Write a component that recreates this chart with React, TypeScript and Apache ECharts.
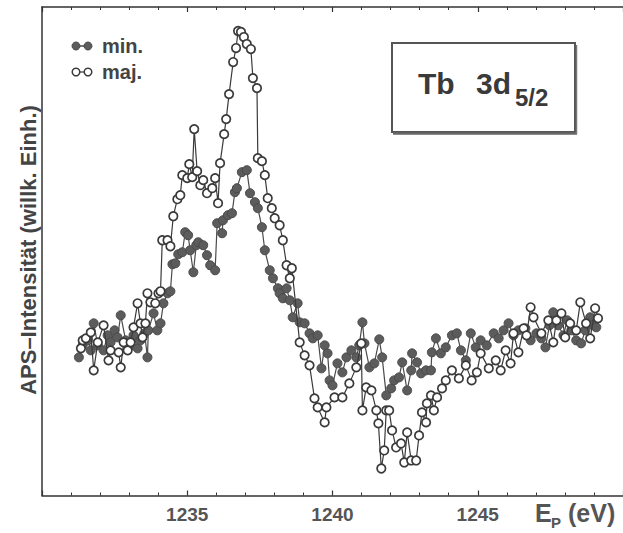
import React, { useEffect, useRef } from 'react';
import * as echarts from 'echarts';

// Energies in eV and intensities (arbitrary units)
const minEnergy = [
  1231.27, 1231.40, 1231.58, 1231.68, 1231.78, 1231.92, 1232.12, 1232.26, 1232.36, 1232.50,
  1232.60, 1232.71, 1232.88, 1233.05, 1233.15, 1233.29, 1233.39, 1233.53, 1233.63, 1233.66,
  1233.84, 1233.97, 1234.08, 1234.18, 1234.32, 1234.42, 1234.49, 1234.59, 1234.69, 1234.83,
  1234.93, 1235.03, 1235.10, 1235.21, 1235.31, 1235.38, 1235.55, 1235.68, 1235.79, 1235.96,
  1236.03, 1236.20, 1236.23, 1236.40, 1236.54, 1236.64, 1236.71, 1236.88, 1237.05, 1237.16,
  1237.33, 1237.43, 1237.57, 1237.67, 1237.84, 1237.95, 1238.12, 1238.18, 1238.29, 1238.42,
  1238.53, 1238.63, 1238.80, 1238.87, 1239.04, 1239.21, 1239.32, 1239.49, 1239.62, 1239.73,
  1239.83, 1239.90, 1240.00, 1240.17, 1240.34, 1240.48, 1240.65, 1240.82, 1240.92, 1241.03,
  1241.10, 1241.27, 1241.44, 1241.61, 1241.71, 1241.85, 1242.02, 1242.12, 1242.29, 1242.40,
  1242.57, 1242.71, 1242.74, 1242.91, 1243.05, 1243.22, 1243.39, 1243.42, 1243.56, 1243.73,
  1243.90, 1244.11, 1244.28, 1244.42, 1244.59, 1244.76, 1244.93, 1245.10, 1245.31, 1245.55,
  1245.72, 1245.89, 1246.06, 1246.23, 1246.40, 1246.64, 1246.82, 1247.02, 1247.19, 1247.33,
  1247.47, 1247.60, 1247.77, 1247.95, 1248.08, 1248.22, 1248.39, 1248.56, 1248.70, 1248.87,
  1248.97, 1249.08,
];
const minIntensity = [
  138, 150, 155, 145, 172, 150, 145, 160, 153, 165,
  158, 180, 155, 150, 160, 147, 155, 162, 138, 165,
  182, 165, 172, 192, 202, 204, 231, 232, 241, 243,
  263, 260, 245, 223, 250, 253, 250, 240, 230, 225,
  272, 262, 275, 280, 282, 303, 307, 323, 325, 302,
  293, 287, 268, 245, 225, 217, 207, 202, 197, 207,
  195, 178, 192, 173, 172, 162, 157, 160, 127, 150,
  142, 115, 110, 132, 123, 138, 145, 138, 150, 173,
  152, 128, 132, 156, 138, 100, 107, 115, 118, 133,
  105, 125, 142, 133, 122, 125, 125, 143, 157, 142,
  148, 160, 162, 145, 135, 162, 148, 155, 150, 162,
  157, 165, 172, 160, 165, 167, 155, 162, 157, 148,
  170, 183, 170, 160, 175, 165, 155, 152, 165, 178,
  170, 168,
];
const majEnergy = [
  1231.34, 1231.40, 1231.51, 1231.68, 1231.78, 1231.92, 1232.12, 1232.29, 1232.36, 1232.64,
  1232.71, 1232.81, 1232.95, 1233.05, 1233.15, 1233.29, 1233.39, 1233.46, 1233.56, 1233.63,
  1233.73, 1233.90, 1234.01, 1234.08, 1234.14, 1234.32, 1234.42, 1234.52, 1234.66, 1234.76,
  1234.83, 1235.00, 1235.07, 1235.17, 1235.24, 1235.34, 1235.45, 1235.55, 1235.68, 1235.86,
  1235.96, 1236.06, 1236.13, 1236.27, 1236.34, 1236.44, 1236.58, 1236.68, 1236.75, 1236.85,
  1236.95, 1237.05, 1237.19, 1237.26, 1237.40, 1237.43, 1237.57, 1237.67, 1237.77, 1237.91,
  1238.01, 1238.18, 1238.29, 1238.42, 1238.53, 1238.60, 1238.87, 1239.04, 1239.21, 1239.38,
  1239.49, 1239.73, 1239.79, 1240.07, 1240.34, 1240.58, 1240.82, 1240.99, 1241.03, 1241.16,
  1241.34, 1241.51, 1241.58, 1241.68, 1241.78, 1241.85, 1241.95, 1242.05, 1242.19, 1242.36,
  1242.47, 1242.57, 1242.71, 1242.88, 1242.98, 1243.08, 1243.22, 1243.25, 1243.39, 1243.49,
  1243.60, 1243.77, 1243.90, 1244.11, 1244.35, 1244.59, 1244.79, 1244.97, 1245.10, 1245.38,
  1245.62, 1245.79, 1245.96, 1246.13, 1246.23, 1246.40, 1246.58, 1246.68, 1246.82, 1246.92,
  1247.19, 1247.43, 1247.60, 1247.71, 1247.88, 1248.01, 1248.18, 1248.39, 1248.53, 1248.73,
  1248.87, 1249.04, 1249.14,
];
const majIntensity = [
  147, 155, 157, 163, 125, 153, 170, 135, 145, 143,
  128, 153, 145, 153, 168, 192, 172, 158, 172, 202,
  193, 192, 202, 204, 255, 255, 249, 279, 296, 300,
  320, 317, 331, 318, 366, 324, 310, 315, 302, 307,
  317, 292, 332, 361, 376, 401, 433, 447, 464, 463,
  458, 451, 446, 417, 407, 337, 334, 320, 297, 287,
  277, 270, 255, 230, 217, 227, 153, 140, 130, 97,
  88, 73, 88, 98, 98, 112, 128, 152, 85, 108,
  105, 85, 72, 27, 45, 85, 85, 65, 48, 52,
  33, 63, 35, 35, 60, 83, 73, 92, 100, 85,
  98, 107, 115, 125, 117, 130, 115, 123, 142, 127,
  135, 125, 145, 132, 162, 143, 167, 160, 188, 178,
  162, 175, 153, 175, 182, 158, 172, 165, 193, 172,
  157, 187, 177,
];

const xTickLabels = ['1235', '1240', '1245'];
const legendLabels = ['min.', 'maj.'];
const yAxisTitle = 'APS–Intensität (willk. Einh.)';

const FONT = '"Liberation Sans", Arial, Helvetica, sans-serif';
const FRAME = '#333';

export default function App() {
  const ref = useRef<HTMLDivElement>(null);

  useEffect(() => {
    if (!ref.current) return;
    const chart = echarts.init(ref.current, null, { renderer: 'svg' });

    const minData = minEnergy.map((e, i) => [e, minIntensity[i]]);
    const majData = majEnergy.map((e, i) => [e, majIntensity[i]]);

    const baseX = {
      type: 'value',
      min: 1230,
      max: 1250,
      interval: 5,
      axisLine: { show: true, onZero: false, lineStyle: { color: FRAME, width: 1.5 } },
      axisTick: { show: true, inside: true, length: 5, lineStyle: { color: FRAME, width: 1.2 } },
      minorTick: { show: true, splitNumber: 5, length: 3, lineStyle: { color: FRAME, width: 1 } },
      splitLine: { show: false },
      minorSplitLine: { show: false },
    };

    chart.setOption({
      animation: false,
      backgroundColor: '#fff',
      grid: { left: 42, right: 0, top: 7, bottom: 37.5 },
      xAxis: [
        {
          ...baseX,
          position: 'bottom',
          axisLabel: {
            show: true,
            margin: 9,
            color: '#555',
            fontFamily: FONT,
            fontWeight: 'bold',
            fontSize: 19,
            formatter: (v: number) => (xTickLabels.includes(String(v)) ? String(v) : ''),
          },
        },
        {
          ...baseX,
          position: 'top',
          axisLabel: { show: false },
        },
      ],
      yAxis: {
        type: 'value',
        min: 0,
        max: 488,
        axisLine: { show: true, onZero: false, lineStyle: { color: FRAME, width: 1.5 } },
        axisTick: { show: false },
        axisLabel: { show: false },
        splitLine: { show: false },
      },
      series: [
        {
          name: legendLabels[0],
          type: 'line',
          data: minData,
          xAxisIndex: 0,
          symbol: 'circle',
          symbolSize: 9,
          showAllSymbol: true,
          lineStyle: { color: '#4a4a4a', width: 1.2 },
          itemStyle: { color: '#5c5c5c', borderColor: '#4a4a4a', borderWidth: 1 },
          z: 2,
        },
        {
          name: legendLabels[1],
          type: 'line',
          data: majData,
          xAxisIndex: 0,
          symbol: 'circle',
          symbolSize: 8.5,
          showAllSymbol: true,
          lineStyle: { color: '#3a3a3a', width: 1.2 },
          itemStyle: { color: '#ffffff', borderColor: '#3a3a3a', borderWidth: 1.7 },
          z: 3,
        },
      ],
      graphic: [
        // y-axis title
        {
          type: 'text',
          x: 28,
          y: 250,
          rotation: Math.PI / 2,
          style: {
            text: yAxisTitle,
            fontFamily: FONT,
            fontWeight: 'bold',
            fontSize: 22,
            fill: '#444',
            align: 'center',
            verticalAlign: 'middle',
          },
        },
        // x-axis title E_P (eV)
        {
          type: 'text', x: 535, y: 513,
          style: { text: 'E', fontFamily: FONT, fontWeight: 'bold', fontSize: 25, fill: '#555', align: 'left', verticalAlign: 'middle' },
        },
        {
          type: 'text', x: 551, y: 522,
          style: { text: 'P', fontFamily: FONT, fontWeight: 'bold', fontSize: 15, fill: '#555', align: 'left', verticalAlign: 'middle' },
        },
        {
          type: 'text', x: 568, y: 513,
          style: { text: '(eV)', fontFamily: FONT, fontWeight: 'bold', fontSize: 25, fill: '#555', align: 'left', verticalAlign: 'middle' },
        },
        // legend: min.
        { type: 'line', shape: { x1: 76, y1: 46, x2: 88, y2: 46 }, style: { stroke: '#4a4a4a', lineWidth: 1.5 } },
        { type: 'circle', shape: { cx: 76, cy: 46, r: 4 }, style: { fill: '#5c5c5c', stroke: '#4a4a4a', lineWidth: 1 } },
        { type: 'circle', shape: { cx: 88, cy: 46, r: 4 }, style: { fill: '#5c5c5c', stroke: '#4a4a4a', lineWidth: 1 } },
        {
          type: 'text', x: 102, y: 46,
          style: { text: legendLabels[0], fontFamily: FONT, fontWeight: 'bold', fontSize: 20, fill: '#444', align: 'left', verticalAlign: 'middle' },
        },
        // legend: maj.
        { type: 'line', shape: { x1: 76, y1: 72, x2: 88, y2: 72 }, style: { stroke: '#3a3a3a', lineWidth: 1.2 } },
        { type: 'circle', shape: { cx: 76, cy: 72, r: 3.8 }, style: { fill: '#fff', stroke: '#3a3a3a', lineWidth: 1.5 } },
        { type: 'circle', shape: { cx: 88, cy: 72, r: 3.8 }, style: { fill: '#fff', stroke: '#3a3a3a', lineWidth: 1.5 } },
        {
          type: 'text', x: 102, y: 72,
          style: { text: legendLabels[1], fontFamily: FONT, fontWeight: 'bold', fontSize: 20, fill: '#444', align: 'left', verticalAlign: 'middle' },
        },
        // title box
        {
          type: 'rect',
          shape: { x: 392, y: 43, width: 183, height: 89 },
          style: { fill: 'none', stroke: '#555', lineWidth: 2 },
        },
        { type: 'line', shape: { x1: 393, y1: 133.5, x2: 577, y2: 133.5 }, style: { stroke: '#666', lineWidth: 2.5 } },
        { type: 'line', shape: { x1: 576.5, y1: 45, x2: 576.5, y2: 134 }, style: { stroke: '#777', lineWidth: 1.5 } },
        {
          type: 'text', x: 418, y: 83,
          style: { text: 'Tb', fontFamily: FONT, fontWeight: 'bold', fontSize: 30, fill: '#3a3a3a', align: 'left', verticalAlign: 'middle' },
        },
        {
          type: 'text', x: 476, y: 83,
          style: { text: '3d', fontFamily: FONT, fontWeight: 'bold', fontSize: 30, fill: '#3a3a3a', align: 'left', verticalAlign: 'middle' },
        },
        {
          type: 'text', x: 515, y: 97,
          style: { text: '5/2', fontFamily: FONT, fontWeight: 'bold', fontSize: 24, fill: '#3a3a3a', align: 'left', verticalAlign: 'middle' },
        },
      ],
    });

    return () => chart.dispose();
  }, []);

  return (
    <div
      style={{
        position: 'fixed',
        left: 0,
        top: 0,
        width: 623,
        height: 533,
        overflow: 'hidden',
        background: '#fff',
      }}
    >
      <div ref={ref} style={{ width: 626, height: 533 }} />
    </div>
  );
}
